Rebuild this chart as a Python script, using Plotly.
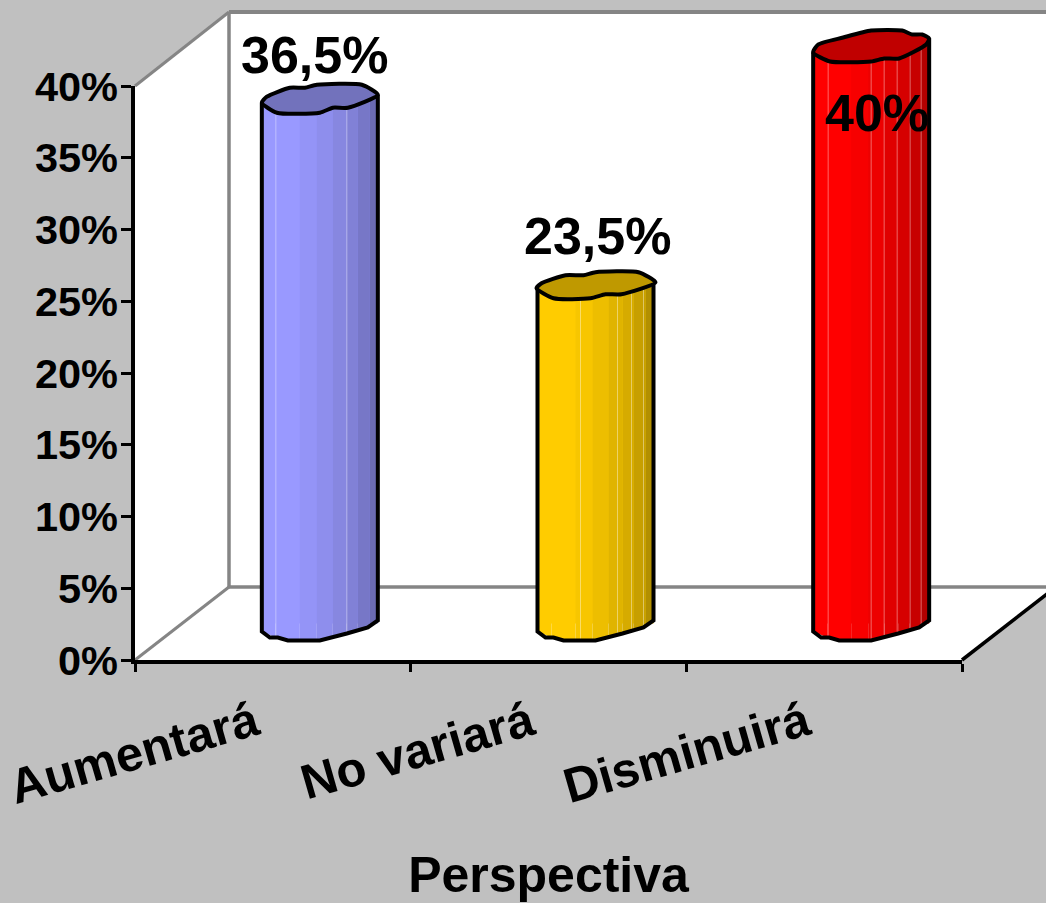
import plotly.graph_objects as go

# --- data ---
categories = ["Aumentará", "No variará", "Disminuirá"]
values = [36.5, 23.5, 40]
value_labels = ["36,5%", "23,5%", "40%"]
axis_title = "Perspectiva"
y_ticks = [0, 5, 10, 15, 20, 25, 30, 35, 40]

# --- page geometry (pixels) ---
W, H = 1046, 903
L, R, T, B = 135, 962, 86, 660       # front plane of the chart
DX, DY = 94, 73                      # depth of the 3-D box
PX_CAT = (R - L) / 3
PX_PCT = (B - T) / 40
C0 = L + PX_CAT / 2 + DX / 2         # centre of first cylinder
BASE = B - DY / 2                    # y pixel of value 0 in mid depth

# --- cylinder styling (offsets are pixels from the centre of lid / base) ---
FACE = ["#9999FF", "#FFCC00", "#FF0000"]
LID = ["#7272BC", "#BF9900", "#C00000"]
STRIP_EDGES = [-58, -44, -20, -3, 13, 27, 38, 50, 58]
STRIP_SHADE = [1.0, 1.0, 0.97, 0.93, 0.88, 0.84, 0.78, 0.70]
LIDS = [
    [(-58, 3), (-43, 13), (0, 13), (13, 8), (28, 8), (58, -5), (42, -15), (-3, -15), (-15, -12), (-30, -12), (-53, -3)],
    [(-59, 2), (-42, 12), (-5, 12), (10, 8), (26, 8), (60, -4), (43, -14), (0, -14), (-12, -11), (-30, -11), (-54, -3)],
    [(-58, 3), (-41, 12), (0, 12), (13, 9), (28, 9), (55, -5), (58, -11), (51, -15), (41, -15), (31, -19), (0, -19), (-28, -12), (-53, -5)],
]
BOTTOM = [(-58, 8), (-50, 14), (-42, 14), (-32, 17), (0, 17), (27, 10), (48, 4), (58, -3)]
SEAMS = [[-44, 27], [-15, 22, 36, 48], [-43, 0, 13, 26, 39, 50]]
LABEL_SHIFT = [(-5, 45), (2, 50), (6, -63)]


def bottom_at(px):
    for (x0, y0), (x1, y1) in zip(BOTTOM, BOTTOM[1:]):
        if x0 <= px <= x1:
            return y0 + (y1 - y0) * (px - x0) / (x1 - x0)
    return BOTTOM[-1][1] if px > 0 else BOTTOM[0][1]


def front_at(px, lid):
    front = lid[: max(i for i, p in enumerate(lid) if p[0] == max(q[0] for q in lid)) + 1]
    for (x0, y0), (x1, y1) in zip(front, front[1:]):
        if x0 <= px <= x1:
            return y0 + (y1 - y0) * (px - x0) / (x1 - x0)
    return front[-1][1] if px > 0 else front[0][1]


def shade(col, f):
    r, g, b = int(col[1:3], 16), int(col[3:5], 16), int(col[5:7], 16)
    return f"rgb({r*f:.0f},{g*f:.0f},{b*f:.0f})"


def to_x(i, px):
    return i + px / PX_CAT


def to_y(val, px):
    return val - px / PX_PCT


fig = go.Figure()

# real category axis (front plane) – carries the tick labels
fig.add_trace(go.Bar(x=categories, y=values, marker=dict(opacity=0), showlegend=False,
                     hoverinfo="skip", xaxis="x", yaxis="y"))

positions = list(range(len(categories)))

# plain bar from the values, behind the shaded strips
fig.add_trace(go.Bar(x=positions, y=values, width=116 / PX_CAT, marker=dict(color=FACE, line_width=0),
                     showlegend=False, xaxis="x2", yaxis="y2"))

AX = dict(xaxis="x2", yaxis="y2", showlegend=False, hoverinfo="skip", cliponaxis=False)
for i, v in enumerate(values):
    lid = LIDS[i]
    # shaded strips
    for a, b, f in zip(STRIP_EDGES, STRIP_EDGES[1:], STRIP_SHADE):
        xs = [to_x(i, a), to_x(i, b), to_x(i, b), to_x(i, a), to_x(i, a)]
        ys = [to_y(v, front_at(a, lid)), to_y(v, front_at(b, lid)),
              to_y(0, bottom_at(b)), to_y(0, bottom_at(a)), to_y(v, front_at(a, lid))]
        fig.add_trace(go.Scatter(x=xs, y=ys, mode="lines", fill="toself", fillcolor=shade(FACE[i], f),
                                 line=dict(width=0), **AX))
    # faint seams
    for s in SEAMS[i]:
        fig.add_trace(go.Scatter(x=[to_x(i, s)] * 2, y=[to_y(v, front_at(s, lid)), to_y(0, bottom_at(s))],
                                 mode="lines", line=dict(color="rgba(255,255,255,0.4)", width=1), **AX))
    # body outline
    ox = [to_x(i, STRIP_EDGES[0])] + [to_x(i, p[0]) for p in BOTTOM] + [to_x(i, STRIP_EDGES[-1])]
    oy = [to_y(v, lid[0][1])] + [to_y(0, p[1]) for p in BOTTOM] + [to_y(v, max(lid, key=lambda p: p[0])[1])]
    fig.add_trace(go.Scatter(x=ox, y=oy, mode="lines", line=dict(color="black", width=4), **AX))
    # lid
    fig.add_trace(go.Scatter(x=[to_x(i, p[0]) for p in lid + lid[:1]],
                             y=[to_y(v, p[1]) for p in lid + lid[:1]],
                             mode="lines", fill="toself", fillcolor=LID[i],
                             line=dict(color="black", width=4, shape="spline", smoothing=0.6), **AX))


def px_x(x):
    return x / W


def px_y(y):
    return 1 - y / H


def seg(x0, y0, x1, y1, color, width):
    return dict(type="line", xref="paper", yref="paper", x0=px_x(x0), y0=px_y(y0), x1=px_x(x1), y1=px_y(y1),
                line=dict(color=color, width=width), layer="below")


def poly(pts):
    path = "M " + " L ".join(f"{px_x(x)},{px_y(y)}" for x, y in pts) + " Z"
    return dict(type="path", xref="paper", yref="paper", path=path, fillcolor="white", line_width=0, layer="below")


GREY = "#858585"
shapes = [
    poly([(L + DX, T - DY - 1), (W + 20, T - DY - 1), (W + 20, B - DY), (L + DX, B - DY)]),
    poly([(L, T), (L + DX, T - DY), (L + DX, B - DY), (L, B)]),
    poly([(L, B), (L + DX, B - DY), (R + DX, B - DY), (R, B)]),
    seg(L, T, L + DX, T - DY - 1, GREY, 3),
    seg(L + DX, T - DY - 1, W + 20, T - DY - 1, GREY, 4),
    seg(L + DX, T - DY - 1, L + DX, B - DY, GREY, 3.5),
    seg(L, B, L + DX, B - DY, GREY, 3),
    seg(L + DX, B - DY, W + 20, B - DY, GREY, 3.5),
    seg(R, B, R + DX, B - DY, "black", 3.5),
]

annotations = [
    dict(x=i, y=v, xref="x2", yref="y2", text=t, showarrow=False, xshift=s[0], yshift=s[1],
         font=dict(family="Liberation Sans", size=52, color="black", weight="bold"),
         xanchor="center", yanchor="middle")
    for i, (v, t, s) in enumerate(zip(values, value_labels, LABEL_SHIFT))
]

FONT = "Liberation Sans"
fig.update_layout(
    width=W, height=H, margin=dict(l=0, r=0, t=0, b=0, autoexpand=False),
    paper_bgcolor="#C0C0C0", plot_bgcolor="rgba(0,0,0,0)",
    showlegend=False, shapes=shapes, annotations=annotations, barmode="overlay",
    xaxis=dict(domain=[L / W, R / W], type="category", categoryorder="array", categoryarray=categories,
               range=[-0.5, 2.5], tickson="boundaries", ticks="outside", ticklen=8, tickwidth=3,
               tickcolor="black", showline=True, linecolor="black", linewidth=3.5, showgrid=False,
               tickangle=-16, tickfont=dict(family=FONT, size=49, color="black", weight="bold"),
               ticklabelstandoff=12, ticklabelshift=-18,
               title=dict(text=axis_title, standoff=54,
                          font=dict(family=FONT, size=50, color="black", weight="bold")),
               anchor="y", automargin=False),
    yaxis=dict(domain=[1 - B / H, 1 - T / H], range=[0, 40], tickmode="array", tickvals=y_ticks,
               ticktext=[f"{t}%" for t in y_ticks], ticks="outside", ticklen=10, tickwidth=3,
               tickcolor="black", showline=True, linecolor="black", linewidth=3.5, showgrid=False,
               zeroline=False, tickfont=dict(family=FONT, size=41.5, color="black", weight="bold"),
               ticklabelstandoff=-5,
               anchor="x", automargin=False),
    xaxis2=dict(domain=[0, 1], range=[-C0 / PX_CAT, (W - C0) / PX_CAT], visible=False, anchor="y2"),
    yaxis2=dict(domain=[0, 1], range=[(BASE - H) / PX_PCT, BASE / PX_PCT], visible=False, anchor="x2"),
)

fig.write_html("out.html", post_script="document.body.style.margin='0';document.body.style.background='#C0C0C0';",
               config=dict(displayModeBar=False))
